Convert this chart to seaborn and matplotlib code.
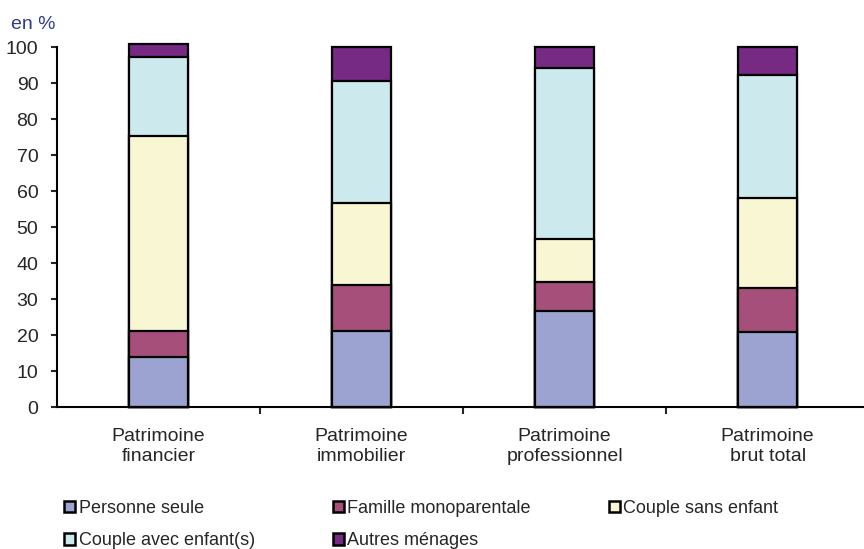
import numpy as np
import pandas as pd
import matplotlib
matplotlib.use("Agg")
import matplotlib.pyplot as plt
import seaborn as sns
from matplotlib.patches import Patch

categories = ["Patrimoine\nfinancier", "Patrimoine\nimmobilier",
              "Patrimoine\nprofessionnel", "Patrimoine\nbrut total"]
series = ["Personne seule", "Famille monoparentale", "Couple sans enfant",
          "Couple avec enfant(s)", "Autres ménages"]

personne_seule = [14.1, 21.1, 26.8, 21.0]
famille_mono = [7.1, 12.9, 7.9, 12.2]
couple_sans = [54.1, 22.7, 12.1, 25.0]
couple_avec = [21.9, 34.0, 47.5, 34.0]
autres = [3.6, 9.3, 5.7, 7.8]

colors = ["#9CA3D1", "#A64F7A", "#F9F7D3", "#CCE9EE", "#772A83"]

sns.set_style("white")
plt.rcParams["font.family"] = ["Liberation Sans", "DejaVu Sans"]

values = np.array([personne_seule, famille_mono, couple_sans, couple_avec, autres])
cum = values.cumsum(axis=0)

fig = plt.figure(figsize=(8.64, 5.49), dpi=100)
ax = fig.add_axes([0.066, 0.258, 0.94, 0.656])

# stacked bars: draw cumulative totals from the top layer down
for i in range(len(series) - 1, -1, -1):
    df = pd.DataFrame({"cat": categories, "val": cum[i]})
    sns.barplot(data=df, x="cat", y="val", color=colors[i], width=0.29,
                edgecolor="black", linewidth=1.6, saturation=1, ax=ax)

for p in ax.patches:
    p.set_clip_on(False)

ax.set_ylim(0, 100)
ax.set_xlim(-0.5, 3.5)
ax.set_yticks(range(0, 101, 10))
ax.set_xlabel("")
ax.set_ylabel("")

for s in ["top", "right"]:
    ax.spines[s].set_visible(False)
for s in ["left", "bottom"]:
    ax.spines[s].set_color("black")
    ax.spines[s].set_linewidth(1.5)

ax.tick_params(axis="y", direction="out", length=4.5, width=1.5, labelsize=14, pad=9, left=True)
ax.tick_params(axis="x", which="major", length=0, labelsize=14, pad=15)
ax.set_xticks([0.5, 1.5, 2.5], minor=True)
ax.tick_params(axis="x", which="minor", direction="out", length=5, width=1.5, bottom=True)
for lbl in ax.get_xticklabels():
    lbl.set_linespacing(1.25)

fig.text(0.013, 0.956, "en %", color="#2E3D8C", fontsize=14, ha="left", va="center")

# legend filled row by row (matplotlib fills columns first)
order = [0, 3, 1, 4, 2]
handles = [Patch(facecolor=colors[k], edgecolor="black", linewidth=1.8) for k in order]
labels = [series[k] for k in order]
fig.legend(handles, labels, ncol=3, loc="upper left",
           bbox_to_anchor=(64 / 864, 1 - 500 / 549), borderpad=0, borderaxespad=0,
           frameon=False, fontsize=13, handlelength=0.62, handleheight=0.62,
           handletextpad=0.2, columnspacing=4.3, labelspacing=0.85)

fig.savefig("out.png", dpi=100)
